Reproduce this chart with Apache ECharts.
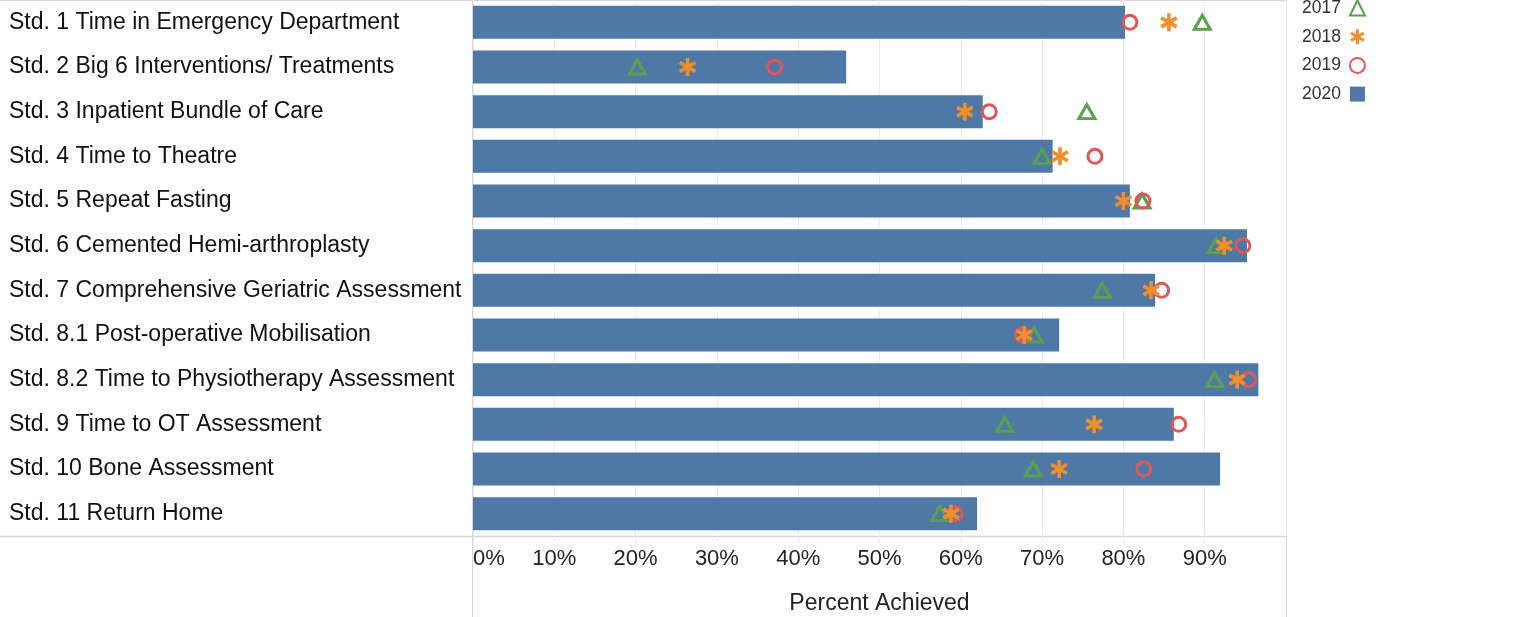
<!DOCTYPE html>
<html>
<head>
    <meta charset="utf-8">
    <title>Hip fracture standards achieved</title>
    <script src="https://cdn.jsdelivr.net/npm/echarts@6/dist/echarts.min.js"></script>
</head>
<style>
    html, body
    {
        margin: 0;
        padding: 0;
        background: #fff;
    }

    #main
    {
        width: 1517px;
        height: 617px;
    }
</style>
<body>

    <div id="main"></div>

    <script type="text/javascript">

        // categories, top to bottom
        var standards = [
            'Std. 1 Time in Emergency Department',
            'Std. 2 Big 6 Interventions/ Treatments',
            'Std. 3 Inpatient Bundle of Care',
            'Std. 4 Time to Theatre',
            'Std. 5 Repeat Fasting',
            'Std. 6 Cemented Hemi-arthroplasty',
            'Std. 7 Comprehensive Geriatric Assessment',
            'Std. 8.1 Post-operative Mobilisation',
            'Std. 8.2 Time to Physiotherapy Assessment',
            'Std. 9 Time to OT Assessment',
            'Std. 10 Bone Assessment',
            'Std. 11 Return Home'
        ];

        // percent achieved per year
        var y2020 = [80.2, 45.9, 62.7, 71.3, 80.8, 95.2, 83.9, 72.1, 96.6, 86.2, 91.9, 62.0];
        var y2019 = [80.8, 37.1, 63.5, 76.5, 82.4, 94.7, 84.7, 67.6, 95.4, 86.8, 82.5, 59.3];
        var y2018 = [85.6, 26.4, 60.5, 72.2, 80.0, 92.4, 83.4, 67.8, 94.0, 76.4, 72.1, 58.8];
        var y2017 = [89.7, 20.2, 75.5, 70.0, 82.3, 91.4, 77.4, 69.0, 91.2, 65.4, 68.9, 57.4];

        var xTicks = [0, 10, 20, 30, 40, 50, 60, 70, 80, 90, 100];

        var blue = '#4e79a7', red = '#e15759', orange = '#f28e2b', green = '#59a14f';
        var frame = '#d6d6d6';
        var font = 'Arial, "Liberation Sans", sans-serif';

        // six armed asterisk, each arm wound the same way
        var asterisk = 'path://M40,0L60,0L60,100L40,100Z' +
            'M88.3,83.66L1.7,33.66L11.7,16.34L98.3,66.34Z' +
            'M1.7,66.34L88.3,16.34L98.3,33.66L11.7,83.66Z';

        var myChart = echarts.init(document.getElementById('main'));

        var option = {
            animation: false,
            textStyle: { fontFamily: font },
            grid: {
                left: 473,
                right: 231,
                top: 0,
                bottom: 81,
                containLabel: false,
                outerBoundsMode: 'none'
            },
            legend: {
                data: ['2017', '2018', '2019', { name: '2020', icon: 'rect' }],
                orient: 'vertical',
                left: 1297,
                top: -6,
                align: 'right',
                itemWidth: 15,
                itemHeight: 15,
                itemGap: 10.7,
                textStyle: { fontSize: 17.5, color: '#333', fontFamily: font, padding: [0, 4, 0, 0] }
            },
            xAxis: {
                type: 'value',
                min: xTicks[0],
                max: xTicks[xTicks.length - 1],
                interval: 10,
                name: 'Percent Achieved',
                nameLocation: 'middle',
                nameGap: 56,
                nameTextStyle: { fontSize: 23, color: '#222', fontFamily: font },
                axisLine: { show: false },
                axisTick: { show: true, length: 7, lineStyle: { color: '#ececec' } },
                splitLine: { show: true, lineStyle: { color: '#ececec' } },
                axisLabel: {
                    formatter: '{value}%',
                    fontSize: 22,
                    color: '#222',
                    margin: 12,
                    showMaxLabel: false,
                    alignMinLabel: 'left'
                }
            },
            yAxis: {
                type: 'category',
                data: standards,
                inverse: true,
                axisLine: { show: false },
                axisTick: { show: false },
                splitLine: { show: false },
                axisLabel: {
                    align: 'left',
                    margin: 464,
                    fontSize: 23,
                    color: '#111',
                    padding: [5, 0, 0, 0]
                }
            },
            series: [
                {
                    name: '2020',
                    type: 'bar',
                    data: y2020,
                    barWidth: 33,
                    itemStyle: { color: blue },
                    z: 1
                },
                {
                    name: '2017',
                    type: 'scatter',
                    data: y2017,
                    symbol: 'triangle',
                    symbolSize: [16, 14],
                    itemStyle: { color: 'rgba(0,0,0,0)', borderColor: green, borderWidth: 3, opacity: 1 },
                    z: 3
                },
                {
                    name: '2019',
                    type: 'scatter',
                    data: y2019,
                    symbol: 'circle',
                    symbolSize: 14,
                    itemStyle: { color: 'rgba(0,0,0,0)', borderColor: red, borderWidth: 3, opacity: 1 },
                    z: 3
                },
                {
                    name: '2018',
                    type: 'scatter',
                    data: y2018,
                    symbol: asterisk,
                    symbolKeepAspect: true,
                    symbolSize: 18,
                    itemStyle: { color: orange, opacity: 1 },
                    z: 4
                }
            ],
            graphic: [
                { type: 'line', shape: { x1: 0, y1: 0.5, x2: 1286, y2: 0.5 }, style: { stroke: frame, lineWidth: 1 }, silent: true },
                { type: 'line', shape: { x1: 0, y1: 536.5, x2: 1286, y2: 536.5 }, style: { stroke: frame, lineWidth: 1.5 }, silent: true },
                { type: 'line', shape: { x1: 472.5, y1: 0, x2: 472.5, y2: 617 }, style: { stroke: frame, lineWidth: 1 }, silent: true },
                { type: 'line', shape: { x1: 1286.5, y1: 0, x2: 1286.5, y2: 617 }, style: { stroke: frame, lineWidth: 1 }, silent: true }
            ]
        };

        myChart.setOption(option);
    </script>

</body>
</html>
